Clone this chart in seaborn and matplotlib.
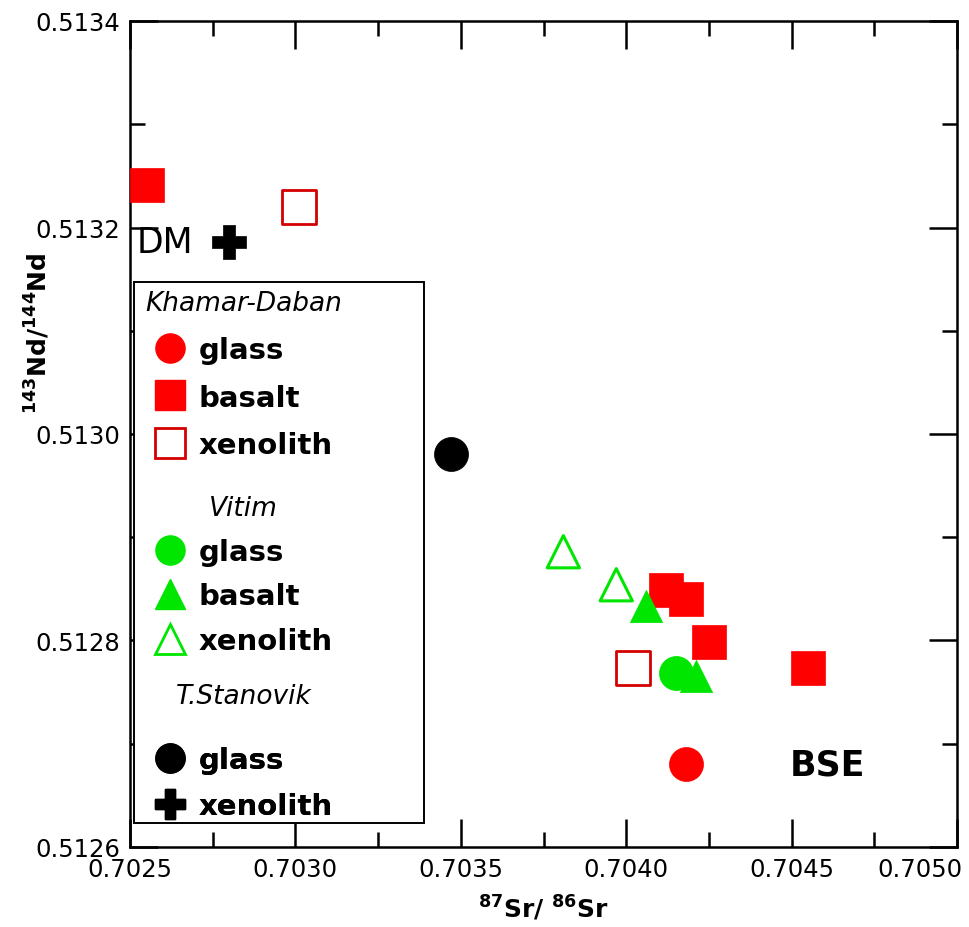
import matplotlib
matplotlib.use("Agg")
import matplotlib.pyplot as plt
import matplotlib.transforms as mtransforms
from matplotlib.lines import Line2D
from matplotlib.patches import Rectangle
from matplotlib.ticker import MultipleLocator, FormatStrFormatter
import seaborn as sns

sns.set_theme(style="white")
plt.rcParams["font.family"] = ["DejaVu Sans"]
plt.rcParams["mathtext.fontset"] = "dejavusans"
plt.rcParams["mathtext.default"] = "bf"
for k in ["text.color", "axes.labelcolor", "xtick.color", "ytick.color"]:
    plt.rcParams[k] = "black"

# ---------------- data ----------------
kd_glass_sr = [0.70418]
kd_glass_nd = [0.512680]
kd_basalt_sr = [0.70255, 0.70412, 0.70418, 0.70425, 0.70455]
kd_basalt_nd = [0.513241, 0.512849, 0.512840, 0.512799, 0.512773]
kd_xeno_sr = [0.70301, 0.70402]
kd_xeno_nd = [0.513220, 0.512773]

vi_glass_sr = [0.70415]
vi_glass_nd = [0.512769]
vi_basalt_sr = [0.70406, 0.70421]
vi_basalt_nd = [0.512833, 0.512766]
vi_xeno_sr = [0.70381, 0.70397]
vi_xeno_nd = [0.512886, 0.512854]

ts_glass_sr = [0.70347]
ts_glass_nd = [0.512981]
ts_xeno_sr = [0.70280]   # DM
ts_xeno_nd = [0.513186]

xticks = [0.7025, 0.7030, 0.7035, 0.7040, 0.7045, 0.7050]
yticks = [0.5126, 0.5128, 0.5130, 0.5132, 0.5134]

RED = "#ff0000"
DRED = "#d40000"
GREEN = "#00e600"
BLACK = "#000000"

fig = plt.figure(figsize=(9.69, 9.28), dpi=100)
ax = fig.add_axes([130 / 969, 80 / 928, 827 / 969, 826 / 928])
ax.set_facecolor("white")

S = 600
sns.scatterplot(x=kd_basalt_sr, y=kd_basalt_nd, marker="s", s=S, color=RED,
                edgecolor=RED, linewidth=0.5, ax=ax, zorder=4)
sns.scatterplot(x=kd_xeno_sr, y=kd_xeno_nd, marker="s", s=S, facecolors="none",
                edgecolor=DRED, linewidth=2.0, ax=ax, zorder=4)
sns.scatterplot(x=kd_glass_sr, y=kd_glass_nd, marker="o", s=S, color=RED,
                edgecolor=RED, linewidth=0.5, ax=ax, zorder=4)
sns.scatterplot(x=vi_xeno_sr, y=vi_xeno_nd, marker="^", s=540, facecolors="none",
                edgecolor=GREEN, linewidth=2.2, ax=ax, zorder=4)
sns.scatterplot(x=vi_basalt_sr, y=vi_basalt_nd, marker="^", s=540, color=GREEN,
                edgecolor=GREEN, linewidth=0.5, ax=ax, zorder=5)
sns.scatterplot(x=vi_glass_sr, y=vi_glass_nd, marker="o", s=S, color=GREEN,
                edgecolor=GREEN, linewidth=0.5, ax=ax, zorder=5)
sns.scatterplot(x=ts_glass_sr, y=ts_glass_nd, marker="o", s=S, color=BLACK,
                edgecolor=BLACK, linewidth=0.5, ax=ax, zorder=4)
sns.scatterplot(x=ts_xeno_sr, y=ts_xeno_nd, marker="P", s=600, color=BLACK,
                edgecolor=BLACK, linewidth=0.5, ax=ax, zorder=4)

ax.set_xlim(0.7025, 0.7050)
ax.set_ylim(0.5126, 0.5134)
ax.set_xticks(xticks)
ax.set_yticks(yticks)
ax.xaxis.set_minor_locator(MultipleLocator(0.00025))
ax.yaxis.set_minor_locator(MultipleLocator(0.0001))
ax.xaxis.set_major_formatter(FormatStrFormatter("%.4f"))
ax.yaxis.set_major_formatter(FormatStrFormatter("%.4f"))
ax.tick_params(which="both", direction="in", top=True, right=True,
               bottom=True, left=True, width=1.8, color="black")
ax.tick_params(which="major", length=20, labelsize=17.5, pad=7)
ax.tick_params(which="minor", length=11)
for sp in ax.spines.values():
    sp.set_visible(True)
    sp.set_color("black")
    sp.set_linewidth(1.8)

# last x tick label sits inside the figure edge
fig.canvas.draw()
last = ax.get_xticklabels()[-1]
last.set_horizontalalignment("right")
last.set_transform(last.get_transform() +
                   mtransforms.ScaledTranslation(5 / 100, 0, fig.dpi_scale_trans))

ax.set_xlabel(r"$^{87}$Sr/ $^{86}$Sr", fontsize=18, fontweight="bold", labelpad=9)
ax.set_ylabel(r"$^{143}$Nd/$^{144}$Nd", fontsize=18, fontweight="bold")
ax.yaxis.set_label_coords(-0.094, 0.623)

ax.text(0.702606, 0.513186, "DM", fontsize=25, ha="center", va="center", zorder=6)
ax.text(0.704607, 0.512680, "BSE", fontsize=25, fontweight="bold",
        ha="center", va="center", zorder=6)

# legend frame
ax.add_patch(Rectangle((0.005, 0.029), 0.3505, 0.655, transform=ax.transAxes,
                       facecolor="white", edgecolor="black", linewidth=1.4, zorder=6))


def h(marker, fc, ec, ms=21, mew=1.0):
    return Line2D([], [], linestyle="none", marker=marker, markersize=ms,
                  markerfacecolor=fc, markeredgecolor=ec, markeredgewidth=mew)


leg_kw = dict(frameon=False, loc="upper center", borderpad=0,
              handlelength=1.1, handletextpad=0.45,
              prop={"weight": "bold", "size": 21},
              title_fontproperties={"style": "italic", "size": 19})

groups = [
    ("Khamar-Daban", [h("o", RED, RED), h("s", RED, RED), h("s", "white", DRED, mew=2)],
     ["glass", "basalt", "xenolith"], 0.692, 0.68),
    ("Vitim", [h("o", GREEN, GREEN), h("^", GREEN, GREEN), h("^", "white", GREEN, mew=2)],
     ["glass", "basalt", "xenolith"], 0.4436, 0.57),
]
for title, handles, labels, ytop, lsp in groups:
    lg = ax.legend(handles, labels, title=title, bbox_to_anchor=(0.137, ytop),
                   bbox_transform=ax.transAxes, labelspacing=lsp, **leg_kw)
    lg.set_zorder(7)
    ax.add_artist(lg)

# third group: heading set a little apart from its entries
ax.text(0.137, 0.183, "T.Stanovik", transform=ax.transAxes, fontsize=19,
        fontstyle="italic", ha="center", va="center", zorder=8)
lg = ax.legend([h("o", BLACK, BLACK), h("P", BLACK, BLACK)], ["glass", "xenolith"],
               bbox_to_anchor=(0.137, 0.1395), bbox_transform=ax.transAxes,
               labelspacing=0.62, **leg_kw)
lg.set_zorder(7)
ax.add_artist(lg)

fig.savefig("out.png", dpi=100, facecolor="white")
